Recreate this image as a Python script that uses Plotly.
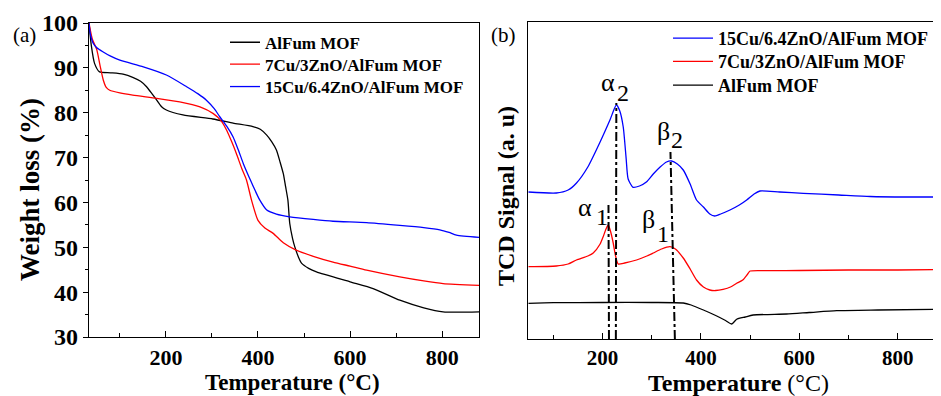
import plotly.graph_objects as go

# ---------------- (a) TGA data ----------------
tga_black_x = [33, 38, 45, 56, 80, 107, 128, 145, 158, 170, 180, 190, 201, 237, 302, 346, 389, 405, 419, 430, 440, 448, 455, 460, 465, 469, 475, 480, 488, 495, 510, 527, 600, 650, 708, 760, 802, 880]
tga_black_y = [100, 95, 91, 89.1, 88.9, 88.6, 87.9, 87.0, 85.8, 84.2, 82.8, 81.4, 80.6, 79.5, 78.6, 77.7, 76.9, 76.3, 75.0, 73.5, 71.7, 69.0, 66.4, 63.5, 60.5, 55.3, 52.0, 50.1, 47.8, 46.4, 45.3, 44.5, 42.3, 40.8, 38.2, 36.5, 35.6, 35.6]

tga_red_x = [33, 40, 50, 57, 64, 70, 78, 100, 128, 180, 230, 274, 303, 320, 332, 343, 353, 365, 375, 386, 400, 415, 433, 455, 484, 520, 563, 600, 636, 708, 760, 802, 880]
tga_red_y = [100, 96.5, 94.0, 90.5, 87.3, 85.7, 85.0, 84.4, 83.9, 83.2, 82.4, 81.3, 79.8, 78.2, 76.1, 73.5, 70.9, 67.5, 65.0, 60.5, 56.0, 54.3, 53.1, 51.0, 49.3, 48.0, 46.7, 45.8, 44.9, 43.4, 42.5, 41.9, 41.5]

tga_blue_x = [33, 36, 42, 50, 63, 80, 100, 151, 201, 245, 270, 288, 305, 317, 332, 346, 358, 368, 380, 390, 404, 419, 440, 469, 520, 563, 636, 708, 760, 795, 815, 831, 880]
tga_blue_y = [100, 97.5, 95.5, 94.5, 93.6, 92.6, 91.7, 90.2, 88.4, 85.8, 84.2, 82.8, 80.9, 79.1, 77.0, 74.6, 71.5, 68.7, 65.8, 63.5, 60.5, 58.3, 57.4, 56.8, 56.2, 55.8, 55.5, 54.9, 54.4, 53.9, 53.3, 52.7, 52.2]

# ---------------- (b) TPR data ----------------
tpr_blue_x = [49, 106, 130, 147, 170, 194, 215, 228, 235, 242, 248, 252, 262, 275, 289, 303, 317, 330, 340, 352, 364, 378, 391, 405, 418, 428, 440, 459, 478, 493, 508, 520, 560, 608, 680, 744, 820, 888]
tpr_blue_y = [147, 146, 149, 156, 172, 196, 219, 234, 228, 212, 180, 160, 151.7, 153, 157, 165, 172, 177, 178, 175, 169, 155, 139, 132, 125, 123, 125, 129, 134, 139, 145, 148, 147, 145.7, 144, 142.5, 142, 142]

tpr_red_x = [49, 106, 130, 147, 170, 181, 195, 201, 207, 211.5, 216, 221.6, 226, 231.7, 245, 269, 290, 303, 320, 337, 348, 364, 378, 391, 405, 418, 430, 445, 460, 472.6, 485, 495, 500, 540, 600, 700, 800, 888]
tpr_red_y = [72.3, 73, 75, 79, 83, 86, 95, 102, 110, 114, 108, 96, 84, 75, 76, 79, 83, 86, 90, 92.3, 90, 81, 70, 59, 52, 49, 48.5, 49.7, 52, 55.7, 59, 65, 68, 68.3, 68.5, 69, 69, 69.5]

tpr_black_x = [49, 100, 200, 300, 364, 380, 405, 430, 450, 462.5, 472.6, 490, 506, 574, 620, 676, 760, 888]
tpr_black_y = [35.7, 36.3, 36.5, 36.5, 36, 34, 29, 23.5, 18.5, 15, 19.7, 22, 24, 25, 26.5, 28.3, 29, 29.7]

# peak marker lines (x at bottom, x at top, top height)
peak_line_x0 = [213, 227, 347]
peak_line_x1 = [212, 228, 338]
peak_line_top = [134, 236, 187]

# peak labels
peak_glyph = ["α", "β", "α", "β"]
peak_sub = ["1", "1", "2", "2"]
glyph_x = [165, 293, 210, 324]
glyph_y = [131.5, 120, 256, 207.5]
sub_x = [199, 322, 242, 352]
sub_y = [122, 105, 246, 199]

names = ["AlFum MOF", "7Cu/3ZnO/AlFum MOF", "15Cu/6.4ZnO/AlFum MOF"]
colors = ["#000000", "#ff0000", "#0000ff"]

# the page body has an 8px margin; lay out in reference pixels and shift
OFF = 8
W, H = 941 - OFF, 396 - OFF
def px(x):
    return (x - OFF) / W
def py(y):
    return 1 - (y - OFF) / H

SERIF = "Liberation Serif"

fig = go.Figure()

left_rows = [42.7, 64.5, 87.0]
right_rows = [38.5, 61.7, 85.5]

for i, (xs, ys, n, c) in enumerate([(tga_black_x, tga_black_y, names[0], colors[0]),
                                    (tga_red_x, tga_red_y, names[1], colors[1]),
                                    (tga_blue_x, tga_blue_y, names[2], colors[2])]):
    fig.add_trace(go.Scatter(x=xs, y=ys, mode="lines", name="<b>" + n + "</b>",
                             line=dict(color=c, width=1.3, shape="spline", smoothing=0.6),
                             xaxis="x", yaxis="y", legend="legend" if i == 0 else f"legend{i+1}"))

for i, (xs, ys, n, c) in enumerate([(tpr_blue_x, tpr_blue_y, names[2], colors[2]),
                                    (tpr_red_x, tpr_red_y, names[1], colors[1]),
                                    (tpr_black_x, tpr_black_y, names[0], colors[0])]):
    fig.add_trace(go.Scatter(x=xs, y=ys, mode="lines", name="<b>" + n + "</b>",
                             line=dict(color=c, width=1.3, shape="spline", smoothing=0.6),
                             xaxis="x2", yaxis="y2", legend=f"legend{i+4}"))

for x0, x1, t in zip(peak_line_x0, peak_line_x1, peak_line_top):
    fig.add_trace(go.Scatter(x=[x0, x1], y=[0, t], mode="lines", showlegend=False,
                             line=dict(color="black", width=2, dash="dashdot"),
                             xaxis="x2", yaxis="y2"))

annotations = []
for g, gx, gy, s, sx, sy in zip(peak_glyph, glyph_x, glyph_y, peak_sub, sub_x, sub_y):
    annotations.append(dict(x=gx, y=gy, xref="x2", yref="y2", text=g, showarrow=False,
                            xanchor="center", yanchor="middle",
                            font=dict(family=SERIF, size=26, color="black")))
    annotations.append(dict(x=sx, y=sy, xref="x2", yref="y2", text=s, showarrow=False,
                            xanchor="center", yanchor="middle",
                            font=dict(family=SERIF, size=24, color="black")))

def pa(x, y, text, size, angle=0):
    return dict(x=px(x), y=py(y), xref="paper", yref="paper", text=text,
                textangle=angle, showarrow=False, xanchor="center", yanchor="middle",
                font=dict(family=SERIF, size=size, color="black"))

annotations += [
    pa(24, 35, "(a)", 21),
    pa(503, 35, "(b)", 21),
    pa(30, 190, "<b>Weight loss (%)</b>", 27, -90),
    pa(292, 382, "<b>Temperature (°C)</b>", 23),
    pa(506, 196, "<b>TCD Signal (a. u)</b>", 24, -90),
    pa(738, 383, "<b>Temperature</b> (°C)", 24),
]

tickfont = dict(family=SERIF, size=22, color="black", weight="bold")
common = dict(showgrid=False, zeroline=False, automargin=False,
              showline=True, linecolor="black", linewidth=1.3)

legends = {}
for i, r in enumerate(left_rows):
    key = "legend" if i == 0 else f"legend{i+1}"
    legends[key] = dict(x=px(225), y=py(r), xanchor="left", yanchor="middle",
                        bgcolor="rgba(0,0,0,0)", itemwidth=30, borderwidth=0,
                        font=dict(family=SERIF, size=17, color="black"))
for i, r in enumerate(right_rows):
    legends[f"legend{i+4}"] = dict(x=px(668), y=py(r), xanchor="left", yanchor="middle",
                                   bgcolor="rgba(0,0,0,0)", itemwidth=40, borderwidth=0,
                                   font=dict(family=SERIF, size=18, color="black"))

fig.update_layout(
    width=W, height=H,
    margin=dict(l=0, r=0, t=0, b=0, autoexpand=False),
    paper_bgcolor="white", plot_bgcolor="white",
    xaxis=dict(domain=[px(89), px(479)], range=[33, 880], tick0=0, dtick=200,
               ticks="inside", ticklen=6, tickwidth=1, tickcolor="black",
               minor=dict(ticks="inside", dtick=100, ticklen=4, tickcolor="black"),
               mirror=True, tickfont=tickfont, ticklabelstandoff=0, **common),
    yaxis=dict(domain=[py(337), py(23)], range=[30, 100], dtick=10,
               ticks="outside", ticklen=5, tickwidth=1, tickcolor="black",
               minor=dict(ticks="outside", dtick=5, ticklen=3, tickcolor="black"),
               mirror=True, tickfont=dict(family=SERIF, size=24, color="black", weight="bold"),
               **common),
    xaxis2=dict(domain=[px(528.3), 1.0], range=[49, 888], tick0=0, dtick=200,
                ticks="inside", ticklen=6, tickwidth=1, tickcolor="black",
                minor=dict(ticks="inside", dtick=100, ticklen=4, tickcolor="black"),
                mirror=True, tickfont=dict(family=SERIF, size=21, color="black", weight="bold"),
                ticklabelstandoff=0, anchor="y2", **common),
    yaxis2=dict(domain=[py(339), py(21.7)], range=[0, 317.3], showticklabels=False,
                ticks="", anchor="x2", **common),
    annotations=annotations,
    **legends,
)

fig.write_html("out.html")
